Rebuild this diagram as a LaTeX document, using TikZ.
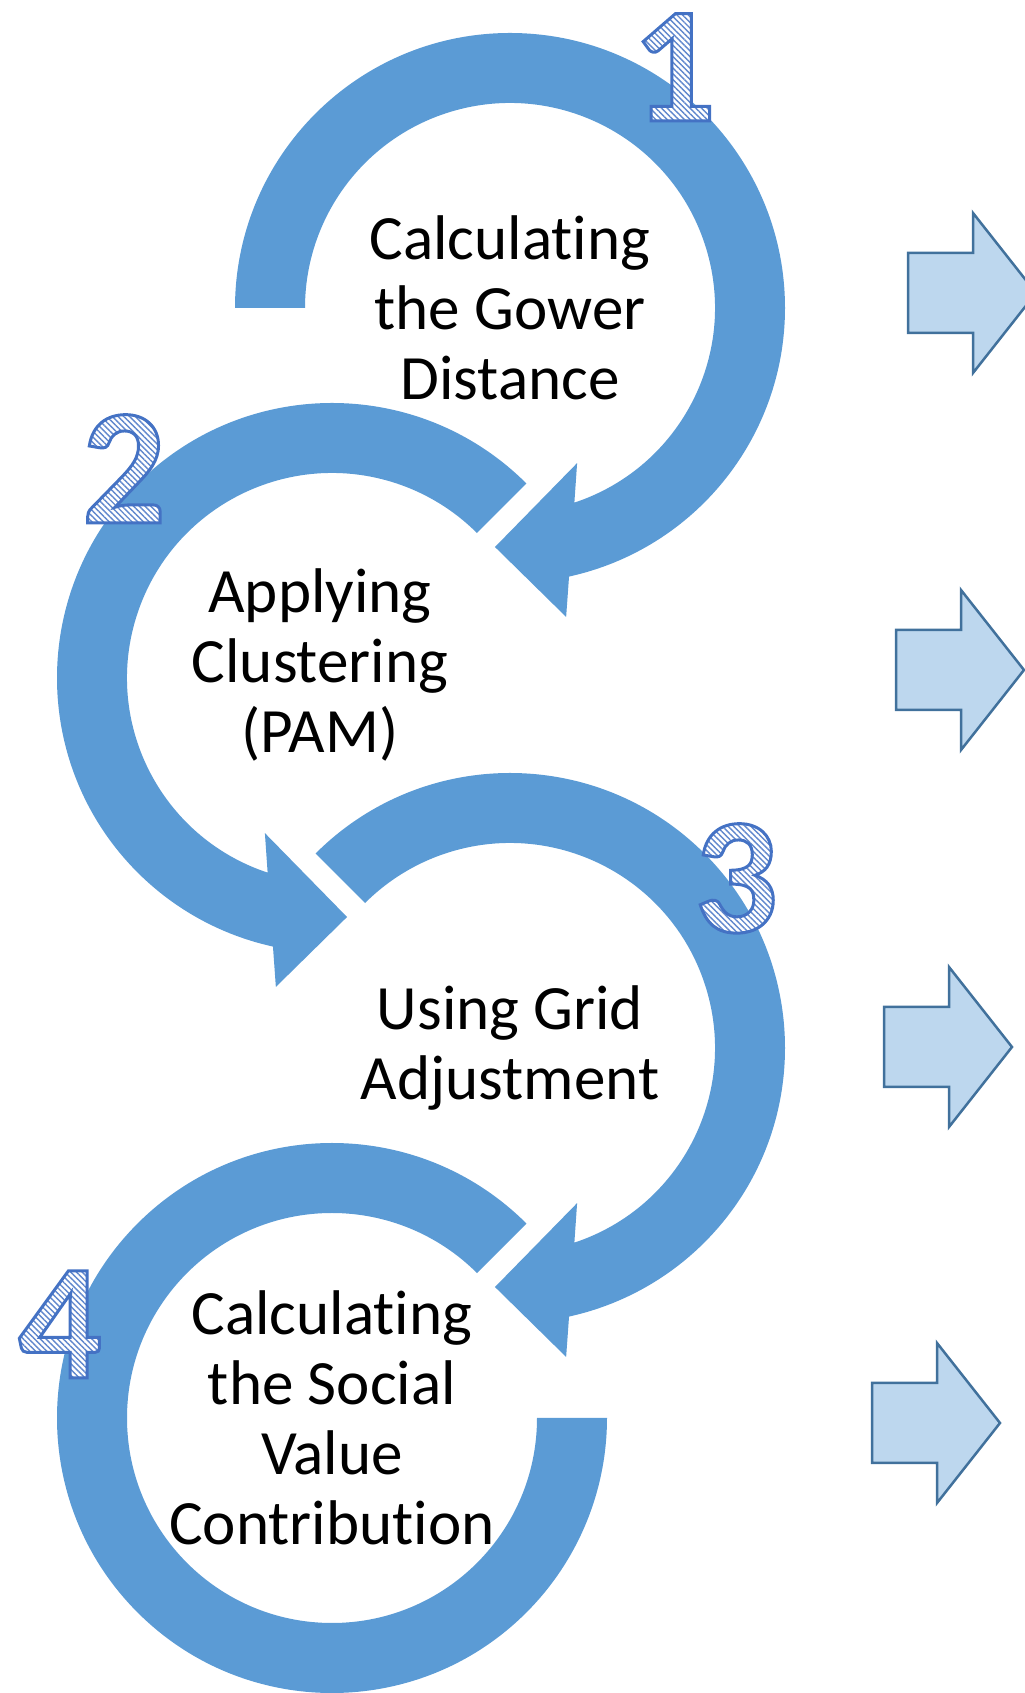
\documentclass[tikz,border=0pt]{standalone}
\usepackage{fontspec}
\setmainfont{Carlito}[Ligatures=NoCommon]
\usetikzlibrary{patterns.meta}

\definecolor{ringblue}{HTML}{5B9BD5}
\definecolor{arrowfill}{HTML}{BDD7EE}
\definecolor{arrowline}{HTML}{41719C}
\definecolor{numblue}{HTML}{4472C4}

\newcommand\stepfont{\fontsize{35.9pt}{39.8pt}\selectfont}
\newcommand\digitfont{\fontsize{94pt}{94pt}\bfseries\selectfont}
% keeps t and i apart (no ti ligature)
\newcommand\tI{t\kern0pt i}

% white, hatched inside of a digit
\newcommand\hatchfill[3]{%
  \begin{tikzpicture}[baseline=0pt]
    \fill[white] (0pt,-#3) rectangle (#1,#2);
    \fill[pattern={Lines[angle=-45,distance=2.3pt,line width=0.8pt]},pattern color=numblue!85] (0pt,-#3) rectangle (#1,#2);
  \end{tikzpicture}}

% outlined digit: glyphs as clip for the hatch, then stroked on top
\makeatletter
\newcommand\hatchnum[1]{%
  \setbox0=\hbox{\digitfont #1}%
  \pgfsys@invoke{q 7 Tr}\copy0\pgfsys@invoke{0 Tr}%
  \llap{\hatchfill{\wd0}{\ht0}{\dp0}}%
  \pgfsys@invoke{Q}%
  \pgfsys@invoke{q 1 Tr 1.7 w 0.267 0.447 0.769 RG}\llap{\copy0}\pgfsys@invoke{0 Tr Q}}
\makeatother

\begin{document}
\begin{tikzpicture}[x=0.2mm,y=0.2mm,
    ring/.style={fill=ringblue},
    sidearrow/.style={fill=arrowfill,draw=arrowline,line width=0.5mm,line join=miter},
    steptext/.style={align=center,font=\stepfont,inner sep=0pt},
    stepnum/.style={anchor=base,inner sep=0pt}]
  \useasboundingbox (0,0) rectangle (1025,1693);
  \clip (0,0) rectangle (1025,1693);

  % ring centres
  \coordinate (c1) at (510,1385);
  \coordinate (c2) at (332,1015);
  \coordinate (c3) at (510,645);
  \coordinate (c4) at (332,275);

  % step 1: clockwise from the left, head at the bottom
  \fill[ring,shift={(c1)}] (180:275) arc[start angle=180,end angle=-77.6,radius=275]
    -- (-79.7:314) -- (-93.6:239.5) -- (-66.6:169) -- (-71.7:205)
    arc[start angle=-71.7,end angle=180,radius=205] -- cycle;
  % step 2: anticlockwise, head at the bottom
  \fill[ring,shift={(c2)}] (45:275) arc[start angle=45,end angle=257.6,radius=275]
    -- (259.7:314) -- (273.6:239.5) -- (246.6:169) -- (251.7:205)
    arc[start angle=251.7,end angle=45,radius=205] -- cycle;
  % step 3
  \fill[ring,shift={(c3)}] (135:275) arc[start angle=135,end angle=-77.6,radius=275]
    -- (-79.7:314) -- (-93.6:239.5) -- (-66.6:169) -- (-71.7:205)
    arc[start angle=-71.7,end angle=135,radius=205] -- cycle;
  % step 4: open ring, no head
  \fill[ring,shift={(c4)}] (45:275) arc[start angle=45,end angle=360,radius=275]
    -- (0:205) arc[start angle=360,end angle=45,radius=205] -- cycle;

  \node[steptext] (gower) at (c1) {Calcula\tI ng\\the Gower\\Distance};
  \node[steptext] (pam) at (320,1028) {Applying\\Clustering\\(PAM)};
  \node[steptext] (grid) at (c3) {Using Grid\\Adjustment};
  \node[steptext] (social) at (c4) {Calcula\tI ng\\the Social\\Value\\Contribu\tI on};

  \node[stepnum] (n1) at (674,1572) {\hatchnum{1}};
  \node[stepnum] (n2) at (124,1170) {\hatchnum{2}};
  \node[stepnum] (n3) at (736,761) {\hatchnum{3}};
  \node[stepnum] (n4) at (60,315) {\hatchnum{4}};

  % arrows on the right
  \foreach \x/\y in {908/1400,896/1023,884/646,872/270}
    \draw[sidearrow] (\x,\y-40) -- ++(65,0) -- ++(0,-40) -- ++(63,80)
      -- ++(-63,80) -- ++(0,-40) -- ++(-65,0) -- cycle;
\end{tikzpicture}
\end{document}
